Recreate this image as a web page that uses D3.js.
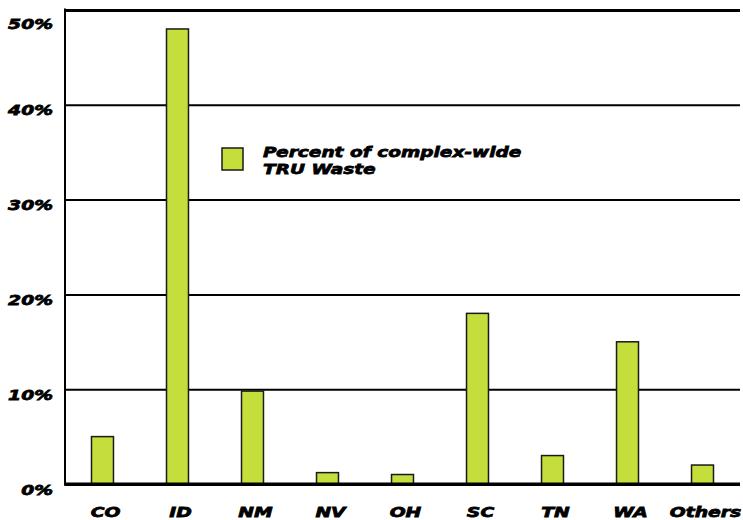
<!DOCTYPE html>
<html>
<head>
<meta charset="utf-8">
<script src="https://cdn.jsdelivr.net/npm/d3@7"></script>
<style>
  html, body { margin: 0; padding: 0; background: #fff; }
  svg { display: block; }
  .lbl { font-family: "DejaVu Sans", sans-serif; font-weight: bold; font-style: italic; fill: #000; stroke: #000; stroke-width: 0.75px; }
</style>
</head>
<body>
<svg id="chart" width="743" height="520"></svg>
<script>
// TRU waste share by site
const sites = ["CO", "ID", "NM", "NV", "OH", "SC", "TN", "WA", "Others"];
const percentOfWaste = [5, 48, 9.8, 1.2, 1.0, 18, 3, 15, 2];
const yTicks = [0, 10, 20, 30, 40, 50];
const legendLines = ["Percent of complex-wide", "TRU Waste"];

const W = 743, H = 520;
const margin = { top: 10, right: 3, bottom: 36, left: 65 };
const barFill = "#c5de3b";
const stretch = 1.37; // wide heavy lettering

const svg = d3.select("#chart");

const x = d3.scaleBand()
  .domain(sites)
  .range([margin.left, W - margin.right])
  .paddingInner(0.707)
  .paddingOuter(0.3533);

const y = d3.scaleLinear()
  .domain([0, 50])
  .range([H - margin.bottom, margin.top]);

// Gridlines and y tick labels
const yAxis = svg.append("g")
  .attr("transform", `translate(${margin.left},0)`)
  .call(d3.axisLeft(y)
    .tickValues(yTicks)
    .tickSize(-(W - margin.left - margin.right))
    .tickFormat(d => d + "%"));

yAxis.select(".domain").remove();
yAxis.selectAll(".tick line")
  .attr("stroke", "#000")
  .attr("stroke-width", d => (d === 0 || d === 50) ? 3 : 2);
yAxis.selectAll(".tick text")
  .attr("class", "lbl")
  .attr("x", null)
  .attr("dy", null)
  .attr("text-anchor", "end")
  .attr("font-size", 13.7)
  .attr("transform", d => `translate(-12,${d === 50 ? 18 : 10}) scale(${stretch},1)`);

// Left axis line
svg.append("line")
  .attr("x1", margin.left).attr("x2", margin.left)
  .attr("y1", y(50) - 1.5).attr("y2", y(0) + 1.5)
  .attr("stroke", "#000").attr("stroke-width", 2);

// Bars
svg.append("g")
  .selectAll("rect")
  .data(sites.map((s, i) => ({ site: s, value: percentOfWaste[i] })))
  .join("rect")
  .attr("x", d => x(d.site))
  .attr("y", d => y(d.value))
  .attr("width", x.bandwidth())
  .attr("height", d => y(0) - y(d.value))
  .attr("fill", barFill)
  .attr("stroke", "#1a1a1a")
  .attr("stroke-width", 1.5);

// Redraw baseline above the bars
svg.append("line")
  .attr("x1", margin.left - 1).attr("x2", W - margin.right)
  .attr("y1", y(0)).attr("y2", y(0))
  .attr("stroke", "#000").attr("stroke-width", 3);

// Category labels
const xAxis = svg.append("g")
  .attr("transform", `translate(0,${H - margin.bottom})`)
  .call(d3.axisBottom(x).tickSize(0).tickPadding(0));
xAxis.select(".domain").remove();
xAxis.selectAll(".tick text")
  .attr("class", "lbl")
  .attr("y", null)
  .attr("dy", null)
  .attr("text-anchor", "middle")
  .attr("font-size", 13.7)
  .attr("transform", `translate(3,33) scale(${stretch},1)`);

// Legend
const legend = svg.append("g");
legend.append("rect")
  .attr("x", 222).attr("y", 148)
  .attr("width", 21).attr("height", 22)
  .attr("fill", barFill)
  .attr("stroke", "#1a1a1a").attr("stroke-width", 1.5);
legend.selectAll("text")
  .data(legendLines)
  .join("text")
  .attr("class", "lbl")
  .attr("font-size", 14.5)
  .attr("transform", (d, i) => `translate(263,${157 + i * 16.5}) scale(1.28,1)`)
  .text(d => d);
</script>
</body>
</html>
